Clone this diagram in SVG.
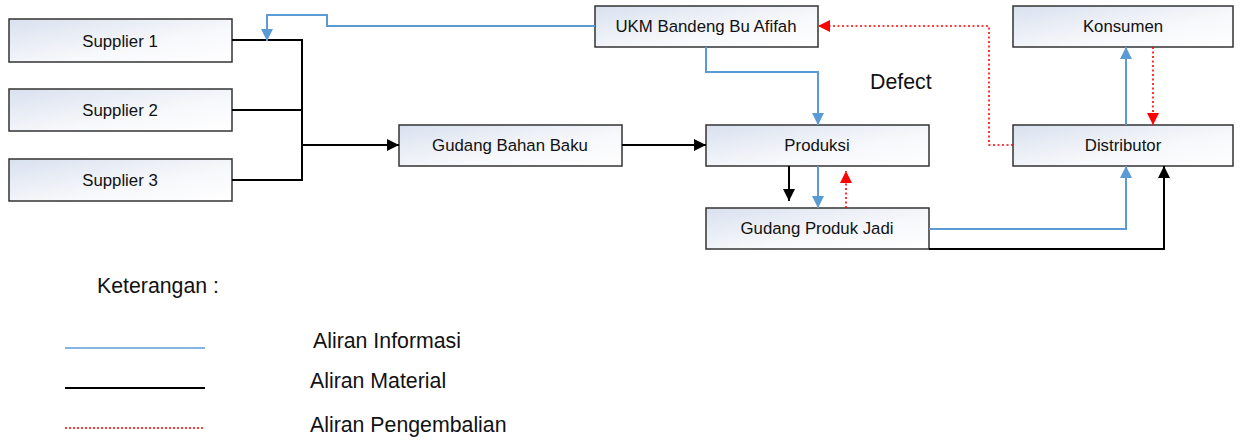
<svg xmlns="http://www.w3.org/2000/svg" width="1240" height="440" viewBox="0 0 1240 440">
<defs>
<linearGradient id="g" x1="0" y1="0" x2="1" y2="1">
<stop offset="0" stop-color="#d9e1ef"/>
<stop offset="0.6" stop-color="#f7f8fb"/>
<stop offset="1" stop-color="#ffffff"/>
</linearGradient>
<marker id="ab" viewBox="0 0 12 12" refX="12" refY="6" markerWidth="12" markerHeight="12" markerUnits="userSpaceOnUse" orient="auto"><path d="M0,0 L12,6 L0,12 Z" fill="#000"/></marker>
<marker id="au" viewBox="0 0 12 12" refX="12" refY="6" markerWidth="12" markerHeight="12" markerUnits="userSpaceOnUse" orient="auto"><path d="M0,0 L12,6 L0,12 Z" fill="#5b9bd5"/></marker>
<marker id="ar" viewBox="0 0 12 12" refX="12" refY="6" markerWidth="12" markerHeight="12" markerUnits="userSpaceOnUse" orient="auto"><path d="M0,0 L12,6 L0,12 Z" fill="#ff0000"/></marker>
</defs>
<style>
.box{fill:url(#g);stroke:#333;stroke-width:1.5}
.t{font-family:"Liberation Sans",Arial,sans-serif;font-size:16.8px;fill:#111;text-anchor:middle;dominant-baseline:central}
.lg{font-family:"Liberation Sans",Arial,sans-serif;font-size:21.3px;fill:#111}
.m{fill:none;stroke:#000;stroke-width:2}
.i{fill:none;stroke:#5b9bd5;stroke-width:2}
.r{fill:none;stroke:#ff0000;stroke-width:1.6;stroke-dasharray:2,2.5}
</style>
<rect width="1240" height="440" fill="#fff"/>
<g id="supplier1"><rect class="box" x="9" y="19" width="223" height="43"/><text class="t" x="120" y="41">Supplier 1</text></g>
<g id="supplier2"><rect class="box" x="9" y="89" width="223" height="42"/><text class="t" x="120" y="110">Supplier 2</text></g>
<g id="supplier3"><rect class="box" x="9" y="159" width="223" height="42"/><text class="t" x="120" y="180">Supplier 3</text></g>
<g id="gudang-bahan-baku"><rect class="box" x="399" y="125" width="223" height="41"/><text class="t" x="510" y="145">Gudang Bahan Baku</text></g>
<g id="produksi"><rect class="box" x="706" y="125" width="223" height="41"/><text class="t" x="817" y="145">Produksi</text></g>
<g id="gudang-produk-jadi"><rect class="box" x="706" y="208" width="223" height="41"/><text class="t" x="817" y="228">Gudang Produk Jadi</text></g>
<g id="ukm"><rect class="box" x="595" y="6" width="223" height="41"/><text class="t" x="706" y="26">UKM Bandeng Bu Afifah</text></g>
<g id="konsumen"><rect class="box" x="1013" y="6" width="220" height="41"/><text class="t" x="1123" y="26">Konsumen</text></g>
<g id="distributor"><rect class="box" x="1013" y="125" width="220" height="41"/><text class="t" x="1123" y="145">Distributor</text></g>
<g id="connectors">
<polyline class="m" points="232,40 302,40 302,180 232,180"/>
<line class="m" x1="232" y1="110" x2="302" y2="110"/>
<line class="m" x1="302" y1="145" x2="399" y2="145" marker-end="url(#ab)"/>
<line class="m" x1="622" y1="145" x2="706" y2="145" marker-end="url(#ab)"/>
<polyline class="i" points="595,26 327,26 327,15 267,15 267,41" marker-end="url(#au)"/>
<polyline class="i" points="706,47 706,72 818,72 818,125" marker-end="url(#au)"/>
<line class="m" x1="789" y1="166" x2="789" y2="201" marker-end="url(#ab)"/>
<line class="i" x1="818" y1="166" x2="818" y2="208" marker-end="url(#au)"/>
<line class="r" x1="846" y1="208" x2="846" y2="171" marker-end="url(#ar)"/>
<polyline class="i" points="929,229 1126,229 1126,166" marker-end="url(#au)"/>
<polyline class="m" points="929,249 1164,249 1164,166" marker-end="url(#ab)"/>
<line class="i" x1="1126" y1="125" x2="1126" y2="47" marker-end="url(#au)"/>
<line class="r" x1="1153" y1="47" x2="1153" y2="125" marker-end="url(#ar)"/>
<polyline class="r" points="1013,145 989,145 989,26 818,26" marker-end="url(#ar)"/>
</g>
<text class="lg" x="870" y="89">Defect</text>
<g id="legend">
<text class="lg" x="97" y="293" font-size="20.2">Keterangan :</text>
<line x1="65" y1="348" x2="205" y2="348" stroke="#5b9bd5" stroke-width="1.5"/>
<line x1="65" y1="388" x2="205" y2="388" stroke="#000" stroke-width="2"/>
<line x1="65" y1="428" x2="205" y2="428" stroke="#ff0000" stroke-width="1.5" stroke-dasharray="2,2"/>
<text class="lg" x="313" y="348">Aliran Informasi</text>
<text class="lg" x="310" y="388">Aliran Material</text>
<text class="lg" x="310" y="432">Aliran Pengembalian</text>
</g>
</svg>
